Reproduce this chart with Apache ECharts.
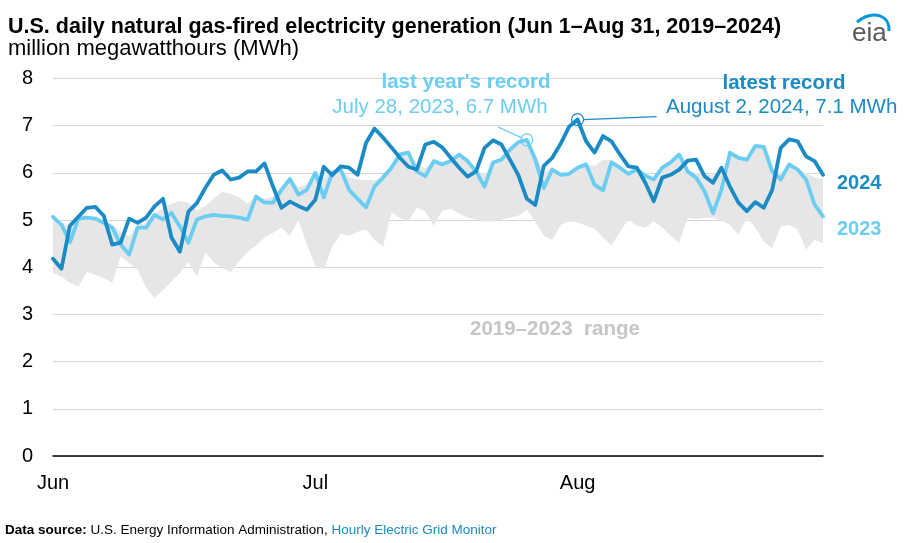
<!DOCTYPE html>
<html><head><meta charset="utf-8">
<script src="https://cdn.jsdelivr.net/npm/echarts@6/dist/echarts.min.js"></script>
<style>html,body{margin:0;padding:0;background:#fff}#c{width:920px;height:543px}</style>
</head><body><div id="c"></div>
<script>
// ---- data ----
const months = ['Jun', 'Jul', 'Aug'];
const monthDays = [30, 31, 31];
const tickLabels = ['Jun', 'Jul', 'Aug'];

const gen2024 = [
  4.18, 3.97, 4.88, 5.07, 5.26, 5.28, 5.09, 4.48, 4.52, 5.03,
  4.94, 5.05, 5.29, 5.45, 4.63, 4.33, 5.18, 5.36, 5.68, 5.96,
  6.05, 5.86, 5.90, 6.03, 6.03, 6.20, 5.71, 5.26, 5.39, 5.30,
  5.22, 5.43, 6.13, 5.95, 6.14, 6.11, 5.96, 6.64, 6.94, 6.75,
  6.54, 6.32, 6.13, 6.07, 6.60, 6.66, 6.54, 6.32, 6.11, 5.92,
  6.03, 6.53, 6.69, 6.60, 6.28, 5.95, 5.45, 5.32, 6.15, 6.32,
  6.62, 6.98, 7.13, 6.67, 6.43, 6.78, 6.67, 6.39, 6.14, 6.11,
  5.79, 5.40, 5.90, 5.96, 6.07, 6.26, 6.28, 5.93, 5.79, 6.11,
  5.71, 5.37, 5.19, 5.38, 5.26, 5.64, 6.53, 6.71, 6.67, 6.35,
  6.25, 5.96
];
const gen2023 = [
  5.07, 4.90, 4.53, 5.03, 5.05, 5.03, 4.94, 4.84, 4.48, 4.27,
  4.84, 4.84, 5.11, 5.01, 5.15, 4.86, 4.52, 5.01, 5.08, 5.11,
  5.09, 5.08, 5.05, 5.01, 5.50, 5.37, 5.37, 5.64, 5.87, 5.54,
  5.64, 6.00, 5.48, 6.00, 6.07, 5.64, 5.45, 5.27, 5.71, 5.90,
  6.11, 6.39, 6.43, 6.03, 5.93, 6.25, 6.18, 6.25, 6.39, 6.25,
  6.03, 5.71, 6.22, 6.28, 6.49, 6.65, 6.70, 6.28, 5.68, 6.07,
  5.96, 5.98, 6.11, 6.18, 5.75, 5.63, 6.22, 6.11, 5.98, 6.07,
  5.94, 5.86, 6.11, 6.22, 6.39, 6.03, 5.90, 5.61, 5.15, 5.64,
  6.43, 6.32, 6.28, 6.57, 6.55, 6.03, 5.86, 6.18, 6.07, 5.86,
  5.33, 5.08
];
const rangeMin = [
  3.88, 3.80, 3.67, 3.59, 3.90, 3.84, 3.77, 3.67, 4.23, 4.09,
  3.95, 3.57, 3.35, 3.52, 3.70, 3.88, 4.12, 3.80, 4.31, 4.10,
  3.99, 3.90, 4.12, 4.33, 4.46, 4.63, 4.73, 4.84, 4.67, 4.99,
  4.48, 4.03, 3.95, 4.44, 4.71, 4.67, 4.75, 4.80, 4.58, 4.44,
  5.16, 5.05, 4.97, 5.26, 5.18, 4.88, 5.20, 5.24, 5.14, 5.05,
  5.01, 4.97, 4.97, 5.01, 5.05, 5.09, 5.22, 4.97, 4.67, 4.58,
  4.90, 4.97, 4.95, 4.88, 4.82, 4.63, 4.46, 4.75, 5.01, 4.88,
  4.84, 4.97, 4.84, 4.67, 4.52, 5.05, 5.03, 5.05, 5.05, 4.99,
  4.90, 4.69, 5.05, 4.84, 4.54, 4.41, 4.86, 4.90, 4.80, 4.37,
  4.58, 4.52
];
const rangeMax = [
  5.07, 4.95, 4.85, 5.05, 5.08, 5.05, 5.00, 4.90, 4.75, 4.65,
  4.90, 4.95, 5.15, 5.25, 5.35, 5.40, 5.38, 5.20, 5.30, 5.45,
  5.60, 5.55, 5.48, 5.35, 5.50, 5.45, 5.50, 5.64, 5.87, 5.70,
  5.75, 6.00, 5.90, 6.05, 6.07, 5.90, 5.86, 5.85, 5.85, 5.92,
  6.11, 6.39, 6.43, 6.20, 6.10, 6.25, 6.20, 6.25, 6.39, 6.25,
  6.10, 5.95, 6.22, 6.30, 6.50, 6.65, 6.72, 6.40, 6.00, 6.10,
  6.00, 6.00, 6.11, 6.18, 6.15, 6.28, 6.28, 6.15, 6.00, 6.07,
  5.96, 5.90, 6.11, 6.22, 6.39, 6.05, 6.00, 5.98, 5.96, 6.00,
  6.43, 6.32, 6.28, 6.57, 6.55, 6.10, 6.00, 6.18, 6.07, 6.00,
  5.90, 5.86
];
const record2023Index = 56;
const record2024Index = 62;

// ---- build ----
const categories = [];
months.forEach((m, k) => { for (let d = 1; d <= monthDays[k]; d++) categories.push(m + ' ' + d); });
const rangeSpan = rangeMax.map((v, i) => +(v - rangeMin[i]).toFixed(3));

const C24 = '#1a8bc5';
const C23 = '#6ccdf3';
const FONT = '"Liberation Sans", Arial, sans-serif';

const chart = echarts.init(document.getElementById('c'), null, { renderer: 'canvas' });
chart.setOption({
  animation: false,
  backgroundColor: '#fff',
  grid: { left: 53, right: 97, top: 78.5, bottom: 87, containLabel: false },
  xAxis: {
    type: 'category', data: categories, boundaryGap: false,
    axisLine: { lineStyle: { color: '#000', width: 1.5 } },
    axisTick: { show: false },
    splitLine: { show: false },
    axisLabel: {
      interval: (idx) => idx % 31 === 0,
      formatter: (v) => tickLabels[months.indexOf(v.split(' ')[0])],
      fontSize: 20, color: '#000', fontFamily: FONT, margin: 17
    }
  },
  yAxis: {
    type: 'value', min: 0, max: 8, interval: 1,
    axisLine: { show: false }, axisTick: { show: false },
    splitLine: { lineStyle: { color: '#d6d6d6', width: 1 } },
    axisLabel: { fontSize: 20, color: '#000', fontFamily: FONT, margin: 20 }
  },
  series: [
    { name: 'low', type: 'line', data: rangeMin, stack: 'range', symbol: 'none',
      lineStyle: { opacity: 0 }, silent: true, z: 1 },
    { name: '2019–2023 range', type: 'line', data: rangeSpan, stack: 'range', symbol: 'none',
      lineStyle: { opacity: 0 }, areaStyle: { color: '#e6e6e6', opacity: 1 }, silent: true, z: 1 },
    { name: '2023', type: 'line', data: gen2023, symbol: 'none', z: 3,
      lineStyle: { color: C23, width: 3.8, join: 'round', cap: 'round' },
      markPoint: { symbol: 'circle', symbolSize: 12, silent: true,
        itemStyle: { color: 'rgba(255,255,255,0)', borderColor: C23, borderWidth: 1.2 },
        label: { show: false },
        data: [{ coord: [record2023Index, gen2023[record2023Index]] }] } },
    { name: '2024', type: 'line', data: gen2024, symbol: 'none', z: 4,
      lineStyle: { color: C24, width: 3.8, join: 'round', cap: 'round' },
      markPoint: { symbol: 'circle', symbolSize: 12, silent: true,
        itemStyle: { color: 'rgba(255,255,255,0)', borderColor: C24, borderWidth: 1.2 },
        label: { show: false },
        data: [{ coord: [record2024Index, gen2024[record2024Index]] }] } }
  ]
});

const p23 = chart.convertToPixel({ seriesIndex: 2 }, [record2023Index, gen2023[record2023Index]]);
const p24 = chart.convertToPixel({ seriesIndex: 3 }, [record2024Index, gen2024[record2024Index]]);

function txt(text, x, y, size, color, bold, align) {
  return { type: 'text', x: x, y: y, z: 100,
    style: { text: text, fill: color, font: (bold ? 'bold ' : '') + size + 'px ' + FONT,
      textAlign: align || 'left', textVerticalAlign: 'middle' } };
}

chart.setOption({
  graphic: [
    txt('U.S. daily natural gas-fired electricity generation (Jun 1–Aug 31, 2019–2024)', 8, 27, 21.5, '#000', true),
    txt('million megawatthours (MWh)', 8, 49, 22, '#000', false),
    txt("last year's record", 466, 82, 20.5, C23, true, 'center'),
    txt('July 28, 2023, 6.7 MWh', 440, 107, 20.5, C23, false, 'center'),
    txt('latest record', 784, 83, 20.5, C24, true, 'center'),
    txt('August 2, 2024, 7.1 MWh', 666, 107, 20.5, C24, false, 'left'),
    txt('2024', 837, 183, 20, C24, true),
    txt('2023', 837, 229, 20, C23, true),
    txt('2019–2023  range', 470, 329, 20.5, '#c6c6c6', true),
    { type: 'line', z: 50, shape: { x1: p23[0] - 29, y1: p23[1] - 13, x2: p23[0] - 5, y2: p23[1] - 2 },
      style: { stroke: C23, lineWidth: 1.2 } },
    { type: 'line', z: 50, shape: { x1: p24[0] + 6, y1: p24[1], x2: p24[0] + 79, y2: p24[1] - 3 },
      style: { stroke: C24, lineWidth: 1.2 } },
    { type: 'text', x: 5, y: 530, z: 100,
      style: { text: '{b|Data source:} U.S. Energy Information Administration, {l|Hourly Electric Grid Monitor}',
        font: '13.5px ' + FONT, fill: '#000', textVerticalAlign: 'middle',
        rich: { b: { fontWeight: 'bold', fontSize: 13.5, fontFamily: FONT, fill: '#000' },
                l: { fontSize: 13.5, fontFamily: FONT, fill: '#1a8bc5' } } } },
    { type: 'text', x: 852, y: 34, z: 100,
      style: { text: 'eia', font: '26px ' + FONT, fill: '#58595b', textVerticalAlign: 'middle' } },
    { type: 'bezierCurve', z: 100,
      shape: { x1: 857, y1: 22, cpx1: 872, cpy1: 10, cpx2: 890, cpy2: 14, x2: 889, y2: 31 },
      style: { stroke: '#0096d7', lineWidth: 3, fill: null } }
  ]
});
</script>
</body></html>
